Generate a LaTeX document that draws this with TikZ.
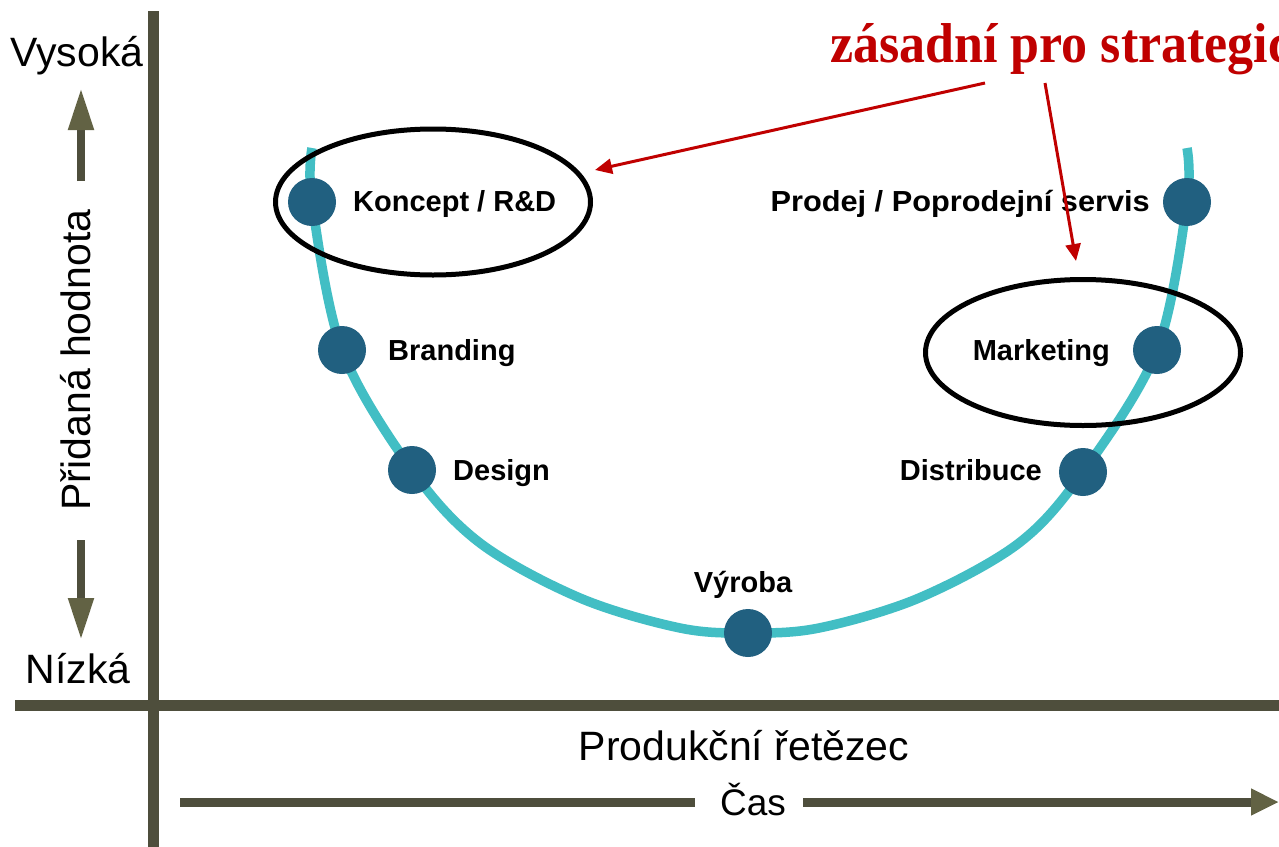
\documentclass[tikz,border=0pt]{standalone}
\usepackage{fontspec}
\setmainfont{Liberation Sans}
\newfontfamily\redserif{Liberation Serif}
\usetikzlibrary{arrows.meta,shapes.geometric}
\definecolor{axiscol}{RGB}{78,78,60}
\definecolor{headcol}{RGB}{98,98,68}
\definecolor{curvecol}{RGB}{66,190,196}
\definecolor{dotcol}{RGB}{33,96,128}
\definecolor{redcol}{RGB}{192,0,0}
\begin{document}
\begin{tikzpicture}[x=1pt,y=-1pt,
  axisline/.style={line width=11pt, draw=axiscol},
  thinaxis/.style={line width=8pt, draw=axiscol},
  bigtip/.style={-{Triangle[length=42pt,width=24pt,fill=headcol,color=headcol]}},
  timetip/.style={-{Triangle[length=28pt,width=25pt,fill=headcol,color=headcol]}},
  axislabel/.style={inner sep=0pt, text=black, font=\fontsize{41}{49}\selectfont},
  stagelabel/.style={inner sep=0pt, text=black, font=\fontsize{29}{34}\selectfont\bfseries},
  stagedot/.style={circle, fill=dotcol, inner sep=0pt, minimum size=48pt},
  curveline/.style={line width=9.5pt, draw=curvecol},
  markellipse/.style={ellipse, draw=black, line width=5pt, inner sep=0pt, minimum width=315pt, minimum height=146pt},
  redarrow/.style={draw=redcol, line width=3pt, -{Triangle[length=17pt,width=15pt]}}]
\useasboundingbox (0,0) rectangle (1279,846);
\clip (0,0) rectangle (1279,846);
\fill[white] (0,0) rectangle (1279,846);

% axes
\coordinate (vtop) at (153.5,11);
\coordinate (vbot) at (153.5,850);
\coordinate (hleft) at (15,705);
\coordinate (hright) at (1285,705);
\draw[axisline] (vtop) -- (vbot);
\draw[axisline] (hleft) -- (hright);

% left axis labels
\node[axislabel, anchor=base] (hi) at (77,66) {Vysoká};
\node[axislabel, anchor=base] (lo) at (78,683) {Nízká};
\node[axislabel, anchor=base, rotate=90] (ph) at (90,360) {Přidaná hodnota};
\coordinate (upstart) at (81,181);
\coordinate (uptip) at (81,88);
\coordinate (dnstart) at (81,540);
\coordinate (dntip) at (81,640);
\draw[thinaxis, bigtip] (upstart) -- (uptip);
\draw[thinaxis, bigtip] (dnstart) -- (dntip);

% bottom labels
\node[axislabel, anchor=base] (pr) at (744,760) {Produkční řetězec};
\node[inner sep=0pt, text=black, font=\fontsize{37}{44}\selectfont, anchor=base] (cas) at (753,815) {Čas};
\coordinate (tstart) at (180,802);
\coordinate (tgapL) at (695,802);
\coordinate (tgapR) at (803,802);
\coordinate (tend) at (1279,802);
\draw[line width=9pt, draw=axiscol] (tstart) -- (tgapL);
\draw[line width=9pt, draw=axiscol, timetip] (tgapR) -- (tend);

% smile curve
\coordinate (ctopL) at (312,148);
\coordinate (pk) at (312,202);
\coordinate (pb) at (342,350);
\coordinate (pd) at (412,470);
\coordinate (m1) at (480,543);
\coordinate (m2) at (580,598);
\coordinate (m3) at (680,628);
\coordinate (pv) at (748,633);
\coordinate (m4) at (819,628);
\coordinate (m5) at (919,598);
\coordinate (m6) at (1019,543);
\coordinate (pdi) at (1083,472);
\coordinate (pm) at (1157,350);
\coordinate (pp) at (1187,202);
\coordinate (ctopR) at (1187,148);
\draw[curveline] plot[smooth, tension=0.55] coordinates {(ctopL) (pk) (pb) (pd) (m1) (m2) (m3) (pv) (m4) (m5) (m6) (pdi) (pm) (pp) (ctopR)};

\node[stagedot] (dk) at (pk) {};
\node[stagedot] (db) at (pb) {};
\node[stagedot] (dd) at (pd) {};
\node[stagedot] (dv) at (pv) {};
\node[stagedot] (ddi) at (pdi) {};
\node[stagedot] (dm) at (pm) {};
\node[stagedot] (dp) at (pp) {};

% stage labels
\node[stagelabel, anchor=base west] (lk) at (353,211) {Koncept / R\&D};
\node[stagelabel, anchor=base west] (lb) at (388,360) {Branding};
\node[stagelabel, anchor=base west] (ld) at (453,480) {Design};
\node[stagelabel, anchor=base] (lv) at (743,592) {Výroba};
\node[stagelabel, anchor=base east, xscale=1.06] (lp) at (1150,211) {Prodej / Poprodejní servis};
\node[stagelabel, anchor=base east] (lm) at (1110,360) {Marketing};
\node[stagelabel, anchor=base east] (ldi) at (1042,480) {Distribuce};

% ellipses
\node[markellipse] (e1) at (433,202) {};
\node[markellipse] (e2) at (1083,352.5) {};

% red annotation
\node[inner sep=0pt, anchor=base west, text=redcol, font=\redserif\bfseries\fontsize{52}{60}\selectfont, yscale=1.08] (rt) at (830,62) {zásadní pro strategic};
\coordinate (r1s) at (985,83);
\coordinate (r1t) at (595,170);
\coordinate (r2s) at (1045,83);
\coordinate (r2t) at (1076,261);
\draw[redarrow] (r1s) -- (r1t);
\draw[redarrow] (r2s) -- (r2t);
\end{tikzpicture}
\end{document}
